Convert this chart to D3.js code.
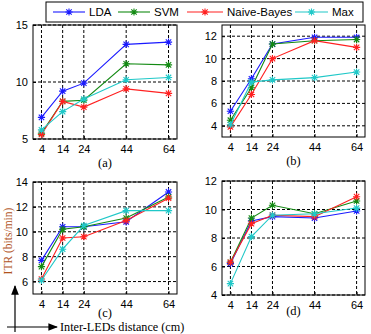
<!DOCTYPE html>
<html>
<head>
<script src="https://d3js.org/d3.v7.min.js"></script>
<style>
  body { margin: 0; background: #fff; }
</style>
</head>
<body>
<svg class="chart"></svg>
<script>
var xCats = [4, 14, 24, 44, 64];
var seriesNames = ["LDA", "SVM", "Naive-Bayes", "Max"];
var seriesColors = ["#1a1aff", "#138a13", "#ff2020", "#20c8c8"];

var ldaA = [6.9, 9.2, 9.9, 13.3, 13.5],
    svmA = [5.5, 8.3, 8.4, 11.6, 11.5],
    nbA  = [5.4, 8.3, 7.8, 9.4, 9.0],
    maxA = [5.8, 7.4, 8.5, 10.2, 10.4];

var ldaB = [5.3, 8.2, 11.3, 11.9, 11.9],
    svmB = [4.5, 7.4, 11.3, 11.6, 11.7],
    nbB  = [3.9, 6.8, 10.0, 11.6, 11.0],
    maxB = [4.1, 7.9, 8.1, 8.3, 8.8];

var ldaC = [7.7, 10.4, 10.4, 10.8, 13.2],
    svmC = [7.2, 10.2, 10.4, 11.1, 12.8],
    nbC  = [6.2, 9.5, 9.6, 10.9, 12.7],
    maxC = [6.1, 8.6, 10.5, 11.7, 11.7];

var ldaD = [6.2, 9.2, 9.5, 9.4, 9.9],
    svmD = [6.3, 9.4, 10.3, 9.7, 10.6],
    nbD  = [6.3, 9.0, 9.6, 9.5, 10.9],
    maxD = [4.8, 8.1, 9.6, 9.7, 10.1];

var ticksA = [5, 10, 15], ticksB = [4, 6, 8, 10, 12],
    ticksC = [6, 8, 10, 12, 14], ticksD = [4, 6, 8, 10, 12];

var panels = [
  {label: "(a)", x0: 33, x1: 177, y0: 25, y1: 139, dom: [5, 15], ticks: ticksA, data: [ldaA, svmA, nbA, maxA], labY: 167},
  {label: "(b)", x0: 222, x1: 365, y0: 25, y1: 137, dom: [3, 13], ticks: ticksB, data: [ldaB, svmB, nbB, maxB], labY: 165},
  {label: "(c)", x0: 33, x1: 177, y0: 182, y1: 294, dom: [5, 14], ticks: ticksC, data: [ldaC, svmC, nbC, maxC], labY: 317},
  {label: "(d)", x0: 222, x1: 365, y0: 181, y1: 295, dom: [4, 12], ticks: ticksD, data: [ldaD, svmD, nbD, maxD], labY: 315}
];

var sans = "Arial, 'Liberation Sans', sans-serif",
    serif = "'Liberation Serif', 'Times New Roman', serif";

var svg = d3.select(".chart").attr("width", 371).attr("height", 334)
  .attr("font-family", sans);

function star(g, x, y, color) {
  var r = 3.6, d = r * 0.75;
  g.append("path")
    .attr("d", "M" + (x - r) + "," + y + "H" + (x + r) + "M" + x + "," + (y - r) + "V" + (y + r) +
      "M" + (x - d) + "," + (y - d) + "L" + (x + d) + "," + (y + d) +
      "M" + (x - d) + "," + (y + d) + "L" + (x + d) + "," + (y - d))
    .attr("stroke", color).attr("stroke-width", 1.1).attr("fill", "none");
}

panels.forEach(function (p) {
  var x = d3.scaleLinear().domain([0, 68]).range([p.x0, p.x1]);
  var y = d3.scaleLinear().domain(p.dom).range([p.y1, p.y0]);
  var g = svg.append("g");

  // dashed grid
  g.selectAll(".gx").data(xCats).enter().append("line")
    .attr("x1", d => x(d)).attr("x2", d => x(d))
    .attr("y1", p.y0).attr("y2", p.y1)
    .attr("stroke", "#000").attr("stroke-dasharray", "3,2").attr("stroke-width", 1);
  g.selectAll(".gy").data(p.ticks).enter().append("line")
    .attr("x1", p.x0).attr("x2", p.x1)
    .attr("y1", d => y(d)).attr("y2", d => y(d))
    .attr("stroke", "#000").attr("stroke-dasharray", "3,2").attr("stroke-width", 1);

  // axes
  var xa = g.append("g").attr("transform", "translate(0," + p.y1 + ")")
    .call(d3.axisBottom(x).tickValues(xCats).tickSize(-3).tickPadding(6));
  var ya = g.append("g").attr("transform", "translate(" + p.x0 + ",0)")
    .call(d3.axisLeft(y).tickValues(p.ticks).tickSize(-3).tickPadding(5));
  [xa, ya].forEach(function (a) {
    a.attr("font-family", sans);
    a.select(".domain").remove();
    a.selectAll("text").attr("font-size", 11).attr("fill", "#000");
    a.selectAll("line").attr("stroke", "#000");
  });
  g.append("rect").attr("x", p.x0).attr("y", p.y0)
    .attr("width", p.x1 - p.x0).attr("height", p.y1 - p.y0)
    .attr("fill", "none").attr("stroke", "#000").attr("stroke-width", 1);

  var line = d3.line().x((d, i) => x(xCats[i])).y(d => y(d));
  p.data.forEach(function (vals, k) {
    g.append("path").datum(vals).attr("d", line)
      .attr("fill", "none").attr("stroke", seriesColors[k]).attr("stroke-width", 1.1);
    vals.forEach(function (v, i) { star(g, x(xCats[i]), y(v), seriesColors[k]); });
  });

  g.append("text").attr("x", (p.x0 + p.x1) / 2).attr("y", p.labY)
    .attr("text-anchor", "middle").attr("font-size", 12.5)
    .attr("font-family", serif)
    .text(p.label);
});

// legend
var lg = svg.append("g");
lg.append("rect").attr("x", 46).attr("y", 2).attr("width", 317).attr("height", 20)
  .attr("fill", "#fff").attr("stroke", "#000").attr("stroke-width", 1);
var legX = [53, 118, 187, 295], legW = [32, 32, 36, 33];
seriesNames.forEach(function (n, k) {
  lg.append("line").attr("x1", legX[k]).attr("x2", legX[k] + legW[k])
    .attr("y1", 12).attr("y2", 12).attr("stroke", seriesColors[k]).attr("stroke-width", 1.1);
  star(lg, legX[k] + legW[k] / 2, 12, seriesColors[k]);
  lg.append("text").attr("x", legX[k] + legW[k] + 4).attr("y", 16)
    .attr("font-size", 11.5).attr("fill", "#000").text(n);
});

// axis annotations
svg.append("text")
  .attr("transform", "translate(12,241) rotate(-90)")
  .attr("text-anchor", "middle").attr("font-size", 11.5)
  .attr("font-family", serif)
  .attr("fill", "#b0521c").text("ITR (bits/min)");

svg.append("defs").append("marker").attr("id", "ah")
  .attr("viewBox", "0 0 10 10").attr("refX", 9).attr("refY", 5)
  .attr("markerWidth", 8).attr("markerHeight", 8).attr("orient", "auto")
  .append("path").attr("d", "M0,1L10,5L0,9Z").attr("fill", "#000");

svg.append("line").attr("x1", 15).attr("y1", 332).attr("x2", 15).attr("y2", 286)
  .attr("stroke", "#000").attr("stroke-width", 1.2).attr("marker-end", "url(#ah)");
svg.append("line").attr("x1", 7).attr("y1", 327).attr("x2", 57).attr("y2", 327)
  .attr("stroke", "#000").attr("stroke-width", 1.2).attr("marker-end", "url(#ah)");
svg.append("text").attr("x", 60).attr("y", 331).attr("font-size", 12.2)
  .attr("font-family", serif)
  .text("Inter-LEDs distance (cm)");
</script>
</body>
</html>
